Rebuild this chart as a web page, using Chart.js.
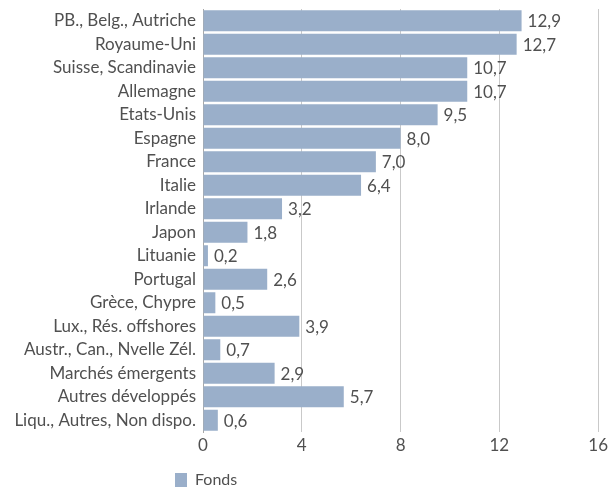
<!DOCTYPE html>
<html>
<head>
<meta charset="utf-8">
<script src="https://cdn.jsdelivr.net/npm/chart.js@4"></script>
<style>
  html, body { margin: 0; padding: 0; background: #fff; }
  #wrap { width: 611px; height: 490px; }
</style>
</head>
<body>
<div id="wrap"><canvas id="chart" width="611" height="490"></canvas></div>
<script>
const categories = [
  'PB., Belg., Autriche', 'Royaume-Uni', 'Suisse, Scandinavie', 'Allemagne',
  'Etats-Unis', 'Espagne', 'France', 'Italie', 'Irlande', 'Japon', 'Lituanie',
  'Portugal', 'Grèce, Chypre', 'Lux., Rés. offshores', 'Austr., Can., Nvelle Zél.',
  'Marchés émergents', 'Autres développés', 'Liqu., Autres, Non dispo.'
];
const fonds = [12.9, 12.7, 10.7, 10.7, 9.5, 8.0, 7.0, 6.4, 3.2, 1.8, 0.2, 2.6, 0.5, 3.9, 0.7, 2.9, 5.7, 0.6];
const xTicks = [0, 4, 8, 12, 16];

const fontFamily = 'Lato, "Open Sans", sans-serif';
const textColor = '#505050';
const barColor = '#9aafca';

// value labels right of each bar, French decimal comma
const valueLabels = {
  id: 'valueLabels',
  afterDatasetsDraw(chart) {
    const ctx = chart.ctx;
    const meta = chart.getDatasetMeta(0);
    ctx.save();
    ctx.font = '17px ' + fontFamily;
    ctx.fillStyle = textColor;
    ctx.textAlign = 'left';
    ctx.textBaseline = 'middle';
    meta.data.forEach((bar, i) => {
      ctx.fillText(fonds[i].toFixed(1).replace('.', ','), bar.x + 6, bar.y + 1);
    });
    ctx.restore();
  }
};

// nudge the legend under the plot like in the original
const legendShift = {
  id: 'legendShift',
  afterLayout(chart) {
    const lg = chart.legend;
    const w = lg.right - lg.left;
    lg.left = 165;
    lg.right = 165 + w;
    const h = lg.bottom - lg.top;
    lg.bottom = 498;
    lg.top = 498 - h;
  }
};

new Chart(document.getElementById('chart'), {
  type: 'bar',
  data: {
    labels: categories,
    datasets: [{
      label: 'Fonds',
      data: fonds,
      backgroundColor: barColor,
      borderWidth: 0,
      barPercentage: 0.9,
      categoryPercentage: 1
    }]
  },
  options: {
    indexAxis: 'y',
    responsive: false,
    animation: false,
    layout: { padding: { top: 9, right: 2, left: 0, bottom: 0 } },
    scales: {
      x: {
        min: 0,
        max: 16,
        afterBuildTicks: (scale) => { scale.ticks = xTicks.map(v => ({ value: v })); },
        afterFit: (scale) => { scale.height = 22; },
        grid: { color: '#c9c9c9', drawTicks: false, lineWidth: 1 },
        border: { display: false },
        ticks: { color: textColor, font: { family: fontFamily, size: 17 }, padding: 3 }
      },
      y: {
        grid: { display: false, drawTicks: false },
        border: { color: '#a8a8a8' },
        afterFit: (scale) => {
          scale.width = 203;
          scale.paddingTop = 0;
          scale.paddingBottom = 0;
        },
        ticks: { color: textColor, font: { family: fontFamily, size: 17 }, padding: 7, autoSkip: false }
      }
    },
    plugins: {
      legend: {
        position: 'bottom',
        align: 'start',
        labels: {
          color: textColor,
          font: { family: fontFamily, size: 16 },
          boxWidth: 12,
          boxHeight: 14,
          padding: 10
        }
      },
      tooltip: { enabled: false }
    }
  },
  plugins: [valueLabels, legendShift]
});
</script>
</body>
</html>
